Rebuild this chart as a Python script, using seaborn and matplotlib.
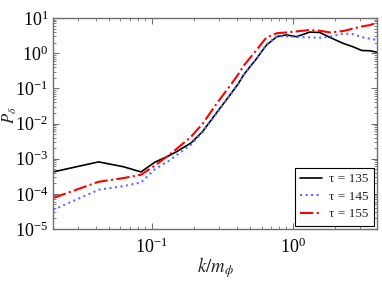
import matplotlib
matplotlib.use("Agg")
import matplotlib.pyplot as plt
import seaborn as sns
import pandas as pd
import numpy as np
from matplotlib.ticker import LogLocator, NullFormatter

k = [0.02, 0.042, 0.063, 0.084, 0.105, 0.13, 0.15, 0.19, 0.23, 0.29, 0.36, 0.41, 0.45,
     0.55, 0.65, 0.77, 0.9, 1.06, 1.32, 1.55, 1.83, 2.27, 2.68, 3.07, 3.52, 3.95]
p135 = [4.2e-4, 8.1e-4, 5.9e-4, 4.2e-4, 7.9e-4, 1.17e-3, 1.58e-3, 2.8e-3, 6.0e-3, 0.021, 0.066,
        0.135, 0.25, 0.68, 1.70, 2.95, 3.31, 2.95, 3.98, 3.89, 2.82, 1.91, 1.51, 1.20, 1.17, 1.07]
p145 = [3.5e-5, 1.3e-4, 1.66e-4, 2.1e-4, 5.0e-4, 8.3e-4, 1.26e-3, 2.5e-3, 5.8e-3, 0.020, 0.065,
        0.13, 0.245, 0.68, 1.78, 3.0, 3.02, 2.88, 2.82, 2.75, 2.95, 3.63, 3.47, 2.88, 2.57, 2.40]
p155 = [7.6e-5, 2.2e-4, 2.8e-4, 3.5e-4, 6.3e-4, 1.2e-3, 1.9e-3, 4.2e-3, 0.010, 0.038, 0.12,
        0.25, 0.45, 1.2, 2.8, 3.7, 3.89, 4.17, 4.57, 4.37, 3.89, 4.27, 5.01, 5.75, 6.31, 7.41]
labels = ["τ = 135", "τ = 145", "τ = 155"]

sns.set_style("ticks")
plt.rcParams["font.family"] = ["Liberation Serif", "DejaVu Serif"]
plt.rcParams["mathtext.fontset"] = "stix"

fig = plt.figure(figsize=(3.82, 2.82), dpi=100)
ax = fig.add_axes([0.139, 0.188, 0.848, 0.748])

series = [(p135, "black", "-", 1.2), (p145, "#5b6cff", ":", 1.5), (p155, "#ff0000", "-.", 1.5)]
for (vals, col, ls, lw), lab in zip(series, labels):
    df = pd.DataFrame({"k": k, "P": vals})
    sns.lineplot(data=df, x="k", y="P", ax=ax, color=col, linestyle=ls, linewidth=lw, label=lab)

ax.set_xscale("log")
ax.set_yscale("log")
ax.set_xlim(0.02, 3.95)
ax.set_ylim(1e-5, 10)
ax.yaxis.set_major_locator(LogLocator(base=10, numticks=10))
ax.yaxis.set_minor_locator(LogLocator(base=10, subs=np.arange(2, 10), numticks=20))
ax.yaxis.set_minor_formatter(NullFormatter())
ax.xaxis.set_minor_formatter(NullFormatter())

for s in ax.spines.values():
    s.set_visible(True)
    s.set_color("#6e6e6e")
    s.set_linewidth(1.0)
ax.tick_params(which="both", direction="in", top=True, right=True, colors="#6e6e6e",
               labelcolor="black", labelsize=13)
ax.tick_params(which="major", length=4)
ax.tick_params(which="minor", length=2)
ax.tick_params(axis="x", pad=6)

ax.set_xlabel(r"$k/m_{\phi}$", fontsize=13.5)
ax.xaxis.set_label_coords(0.5, -0.125)
ax.xaxis.label.set_va("top")
ax.set_ylabel(r"$P_{\delta}$", fontsize=12)
ax.yaxis.set_label_coords(-0.134, 0.54)
ax.yaxis.label.set_va("center")

leg = ax.legend(loc="lower right", fontsize=9.5, frameon=True, fancybox=False,
                edgecolor="black", framealpha=1, borderaxespad=0.25, handlelength=1.7,
                handletextpad=0.5, borderpad=0.4, labelspacing=0.4)
leg.get_frame().set_linewidth(0.8)

fig.savefig("out.png", dpi=100)
